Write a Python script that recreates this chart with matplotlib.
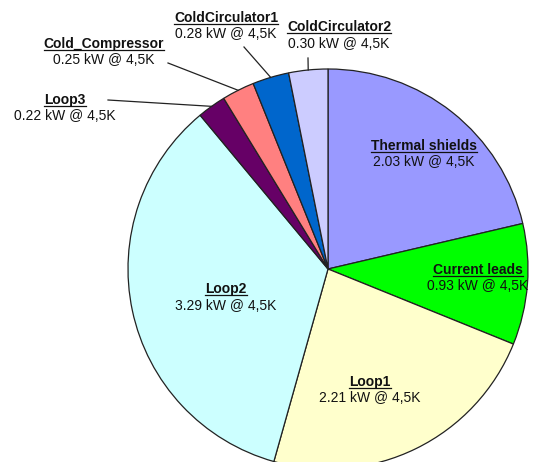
import matplotlib
matplotlib.use("Agg")
import matplotlib.pyplot as plt
import numpy as np

labels = ["Thermal shields", "Current leads", "Loop1", "Loop2", "Loop3",
          "Cold_Compressor", "ColdCirculator1", "ColdCirculator2"]
values = [2.03, 0.93, 2.21, 3.29, 0.22, 0.25, 0.28, 0.30]
colors = ["#9999FF", "#00FF00", "#FFFFCC", "#CCFFFF", "#660066",
          "#FF8080", "#0066CC", "#CCCCFF"]
unit = "kW @ 4,5K"

# label anchor positions in pixels (x, y from top) for title line center
label_pos = {
    "Thermal shields": (424, 146),
    "Current leads": (478, 270),
    "Loop1": (370, 382),
    "Loop2": (226, 289),
    "Loop3": (65, 100),
    "Cold_Compressor": (104, 44),
    "ColdCirculator1": (226, 18),
    "ColdCirculator2": (339, 27),
}
leader_start = {
    "Loop3": (108, 100),
    "Cold_Compressor": (168, 63),
    "ColdCirculator1": (244, 47),
    "ColdCirculator2": (308, 58),
}

W, H = 538, 462
plt.rcParams['font.family'] = ['Liberation Sans', 'DejaVu Sans']
fig = plt.figure(figsize=(W / 100, H / 100), dpi=100)
ax = fig.add_axes([0, 0, 1, 1])
ax.set_xlim(0, W)
ax.set_ylim(0, H)
ax.set_aspect('equal')
ax.axis('off')

cx, cy, R = 328, H - 269, 200
wedges, _ = ax.pie(values, colors=colors, startangle=90, counterclock=False,
                   center=(cx, cy), radius=R,
                   wedgeprops=dict(edgecolor="#222222", linewidth=0.9))
ax.set_xlim(0, W)
ax.set_ylim(0, H)

fs = 10
titles = []
for lab, val, w in zip(labels, values, wedges):
    x, y = label_pos[lab]
    t = ax.text(x, H - y, lab, ha='center', va='center', fontsize=fs,
                fontweight='bold', color='#111111')
    ax.text(x, H - y - 16.5, f"{val:.2f} {unit}", ha='center', va='center',
            fontsize=fs, color='#111111')
    titles.append(t)
    if lab in leader_start:
        sx, sy = leader_start[lab]
        ang = np.deg2rad((w.theta1 + w.theta2) / 2)
        ex, ey = cx + R * np.cos(ang), cy + R * np.sin(ang)
        ax.plot([sx, ex], [H - sy, ey], color='#222222', lw=0.9)

fig.canvas.draw()
r = fig.canvas.get_renderer()
inv = ax.transData.inverted()
for t in titles:
    bb = t.get_window_extent(r)
    (x0, y0), (x1, y1) = inv.transform([(bb.x0, bb.y0), (bb.x1, bb.y1)])
    ax.plot([x0, x1], [y0 + 1.5, y0 + 1.5], color='#111111', lw=0.9)

fig.savefig("out.png", dpi=100)
